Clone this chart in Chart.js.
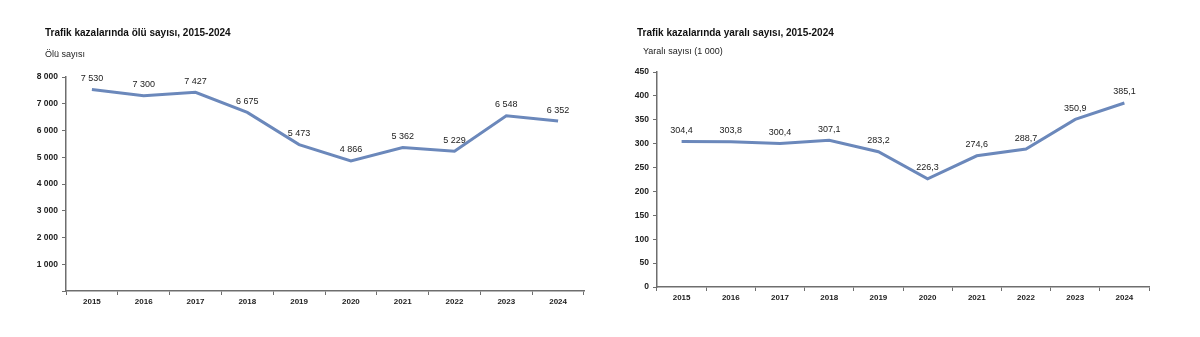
<!DOCTYPE html>
<html lang="tr">
<head>
<meta charset="utf-8">
<script src="https://cdn.jsdelivr.net/npm/chart.js@4"></script>
<style>
  body { margin: 0; background: #fff; font-family: "Liberation Sans", Arial, sans-serif; }
  .panel { position: absolute; top: 0; width: 600px; height: 337px; }
  .title { position: absolute; font-size: 10px; font-weight: bold; color: #111; white-space: nowrap; }
  .unit { position: absolute; font-size: 9px; color: #222; white-space: nowrap; }
</style>
</head>
<body>
<div class="panel" style="left:0">
  <div class="title" style="left:45px; top:27px">Trafik kazalarında ölü sayısı, 2015-2024</div>
  <div class="unit" style="left:45px; top:49px">Ölü sayısı</div>
  <canvas id="deathChart" width="600" height="337"></canvas>
</div>
<div class="panel" style="left:600px">
  <div class="title" style="left:37px; top:27px">Trafik kazalarında yaralı sayısı, 2015-2024</div>
  <div class="unit" style="left:43px; top:46px">Yaralı sayısı (1 000)</div>
  <canvas id="injuredChart" width="600" height="337"></canvas>
</div>
<script>
const years = ["2015", "2016", "2017", "2018", "2019", "2020", "2021", "2022", "2023", "2024"];
const deaths = [7530, 7300, 7427, 6675, 5473, 4866, 5362, 5229, 6548, 6352];
const injured = [304.4, 303.8, 300.4, 307.1, 283.2, 226.3, 274.6, 288.7, 350.9, 385.1];

const lineColor = "#6b88bb";
const axisColor = "#6e6e6e";

// number formats like the Turkish source: "7 530" and "304,4"
function fmtInt(v) {
  return String(v).replace(/\B(?=(\d{3})+(?!\d))/g, " ");
}
function fmtDec(v) {
  return v.toFixed(1).replace(".", ",");
}

// small plugin to write the value above every point
function valueLabels(fmt) {
  return {
    id: "valueLabels",
    afterDatasetsDraw(chart) {
      const ctx = chart.ctx;
      const meta = chart.getDatasetMeta(0);
      const data = chart.data.datasets[0].data;
      ctx.save();
      ctx.font = "9px 'Liberation Sans', Arial, sans-serif";
      ctx.fillStyle = "#222";
      ctx.textAlign = "center";
      ctx.textBaseline = "middle";
      meta.data.forEach((pt, i) => {
        ctx.fillText(fmt(data[i]), pt.x, pt.y - 11);
      });
      ctx.restore();
    }
  };
}

function makeChart(id, values, yMax, yStep, yFmt, box, fmt) {
  const ctx = document.getElementById(id).getContext("2d");
  return new Chart(ctx, {
    type: "line",
    data: {
      labels: years,
      datasets: [{
        data: values,
        borderColor: lineColor,
        borderWidth: 3,
        pointRadius: 0,
        tension: 0,
        fill: false
      }]
    },
    options: {
      responsive: false,
      animation: false,
      layout: { padding: { left: 0, right: box.right, top: box.top, bottom: 0 } },
      plugins: { legend: { display: false }, tooltip: { enabled: false } },
      scales: {
        x: {
          offset: true,
          grid: { offset: true, drawOnChartArea: false, drawTicks: true, tickLength: 4, color: axisColor, lineWidth: 1 },
          border: { color: axisColor, width: 1.5 },
          ticks: { color: "#222", font: { family: "'Liberation Sans', Arial, sans-serif", size: 8, weight: "bold" }, padding: 2, maxRotation: 0 },
          afterFit(scale) { scale.height = box.bottom; }
        },
        y: {
          min: 0,
          max: yMax,
          grid: { drawOnChartArea: false, drawTicks: true, tickLength: 4, color: axisColor, lineWidth: 1 },
          border: { color: axisColor, width: 1.5 },
          ticks: { stepSize: yStep, color: "#222", padding: 4, font: { family: "'Liberation Sans', Arial, sans-serif", size: 8.5, weight: "bold" }, callback: yFmt },
          afterFit(scale) { scale.width = box.left; }
        }
      }
    },
    plugins: [valueLabels(fmt)]
  });
}

makeChart("deathChart", deaths, 8000, 1000, v => (v === 0 ? "" : fmtInt(v)),
  { left: 66, right: 16, top: 77, bottom: 46 }, fmtInt);
makeChart("injuredChart", injured, 450, 50, v => String(v),
  { left: 57, right: 51, top: 72, bottom: 50 }, fmtDec);
</script>
</body>
</html>
